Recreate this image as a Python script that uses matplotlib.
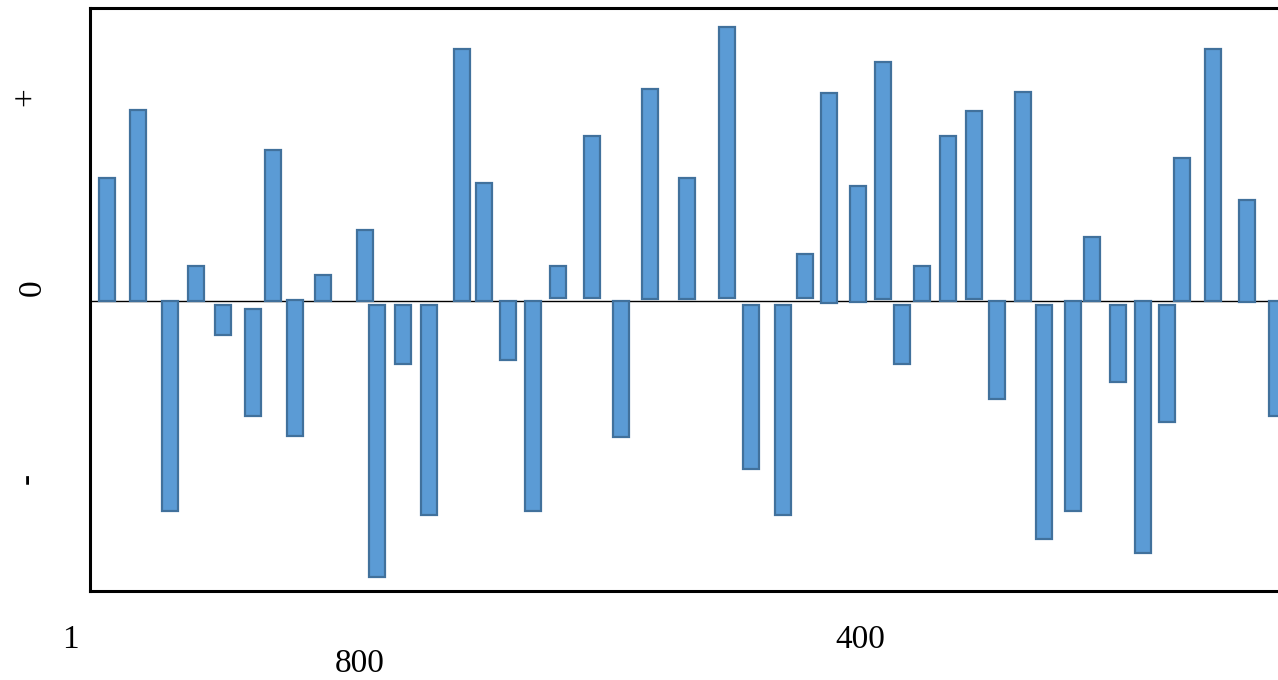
import matplotlib.pyplot as plt

# bar centres along the x axis (chart units)
positions = [107, 138, 170, 196, 223, 253, 273, 295, 323, 365, 377, 403, 429, 462, 484,
             508, 533, 558, 592, 621, 650, 687, 727, 751, 783, 805, 829, 858, 883, 902,
             922, 948, 974, 997, 1023, 1044, 1073, 1092, 1118, 1143, 1167, 1182, 1213, 1247, 1277]

# upper and lower end of each bar
bar_high = [123, 191, 0, 35, -4, -8, 151, 1, 26, 71, -4, -4, -4, 252, 118,
            0, 0, 35, 165, 0, 212, 123, 274, -4, -4, 47, 208, 115, 239, -4,
            35, 165, 190, 0, 209, -4, 0, 64, -4, 0, -4, 143, 252, 101, 0]
bar_low = [0, 0, -210, 0, -34, -115, 0, -135, 0, 0, -276, -63, -214, 0, 0,
           -59, -210, 3, 3, -136, 2, 2, 3, -168, -214, 3, -2, -1, 2, -63,
           0, 0, 2, -98, 0, -238, -210, 0, -81, -252, -121, 0, 0, -1, -115]

y_labels = ["+", "0", "-"]
x_labels = ["1", "400", "800"]

plt.rcParams["font.family"] = ["Liberation Serif", "DejaVu Serif"]

W, H = 1278, 680
fig = plt.figure(figsize=(W / 100, H / 100), dpi=100)
# axes box; right edge runs past the figure like in the original
ax = fig.add_axes([90 / W, (H - 591) / H, (1300 - 90) / W, (591 - 8) / H])

heights = [h - l for h, l in zip(bar_high, bar_low)]
ax.bar(positions, heights, bottom=bar_low, width=16, color="#5B9BD5",
       edgecolor="#41719C", linewidth=1.6, zorder=2)
ax.axhline(0, color="black", linewidth=1.0, zorder=1)

ax.set_xlim(90, 1300)
ax.set_ylim(-290, 293)
ax.set_xticks([])
ax.set_yticks([])
for s in ax.spines.values():
    s.set_linewidth(2.2)

# loose labels around the frame
fs = 24
for lab, (px, py) in zip(y_labels, [(27, 97), (33, 288), (27, 478)]):
    fig.text(px / W, 1 - py / H, lab, rotation=90, fontsize=fs,
             ha="center", va="center")
for lab, (px, py) in zip(x_labels, [(70, 640), (860, 640), (360, 664)]):
    fig.text(px / W, 1 - py / H, lab, fontsize=fs, ha="center", va="center")

plt.savefig("out.png", dpi=100, facecolor="white")
